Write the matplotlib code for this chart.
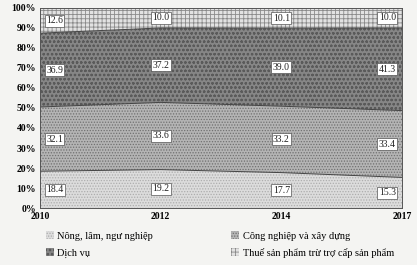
import matplotlib
matplotlib.use("Agg")
import matplotlib.pyplot as plt
import numpy as np

years = ["2010", "2012", "2014", "2017"]
nong_nghiep = [18.4, 19.2, 17.7, 15.3]
cong_nghiep = [32.1, 33.6, 33.2, 33.4]
dich_vu = [36.9, 37.2, 39.0, 41.3]
thue = [12.6, 10.0, 10.1, 10.0]
series_names = ["Nông, lâm, ngư nghiệp", "Công nghiệp và xây dựng",
                "Dịch vụ", "Thuế sản phẩm trừ trợ cấp sản phẩm"]

plt.rcParams["font.family"] = ["Liberation Serif", "DejaVu Serif"]
plt.rcParams["hatch.linewidth"] = 0.6

fig = plt.figure(figsize=(4.17, 2.65), dpi=100)
fig.patch.set_facecolor("#f4f4f2")
ax = fig.add_axes([0.096, 0.215, 0.868, 0.755])

x = np.arange(len(years))
data = [nong_nghiep, cong_nghiep, dich_vu, thue]
faces = ["#dcdcdc", "#b4b4b4", "#868686", "#e2e2e2"]
hatches = ["......", "......", "oooo", "++++"]
hcolors = ["#adadad", "#707070", "#5a5a5a", "#8a8a8a"]

polys = ax.stackplot(x, *data, colors=faces, labels=series_names)
for p, h, hc in zip(polys, hatches, hcolors):
    p.set_hatch(h)
    p.set_edgecolor(hc)
    p.set_linewidth(0)

# band outlines
cum = np.cumsum(np.array(data), axis=0)
for row in cum[:-1]:
    ax.plot(x, row, color="#444444", lw=0.7)

# value labels
bottom = np.zeros(len(years))
for vals in data:
    vals = np.array(vals)
    mid = bottom + vals / 2
    for i, v in enumerate(vals):
        if i == 0:
            xi, ha = x[i] + 0.05, "left"
        elif i == len(x) - 1:
            xi, ha = x[i] - 0.05, "right"
        else:
            xi, ha = x[i], "center"
        ax.text(xi, mid[i], f"{v:.1f}", ha=ha, va="center", fontsize=7, color="#222222",
                bbox=dict(boxstyle="square,pad=0.15", fc="white", ec="#555555", lw=0.5))
    bottom += vals

ax.set_xlim(0, len(years) - 1)
ax.set_ylim(0, 100)
ax.set_yticks(np.arange(0, 101, 10))
ax.set_yticklabels([f"{t}%" for t in range(0, 101, 10)])
ax.set_xticks(x)
ax.set_xticklabels(years)
ax.tick_params(labelsize=7, length=0, pad=3)
for lab in ax.get_xticklabels() + ax.get_yticklabels():
    lab.set_fontweight("bold")
for s in ax.spines.values():
    s.set_color("#555555")
    s.set_linewidth(0.7)

# legend filled row by row: two per line
order = [0, 2, 1, 3]
handles, labels = ax.get_legend_handles_labels()
ax.legend([handles[i] for i in order], [labels[i] for i in order],
          loc="upper left", bbox_to_anchor=(-0.01, -0.07), ncol=2, frameon=False,
          fontsize=7.5, handlelength=0.8, handleheight=0.8, columnspacing=7.5,
          labelspacing=0.65, handletextpad=0.3)

fig.savefig("out.png", dpi=100, facecolor=fig.get_facecolor())
